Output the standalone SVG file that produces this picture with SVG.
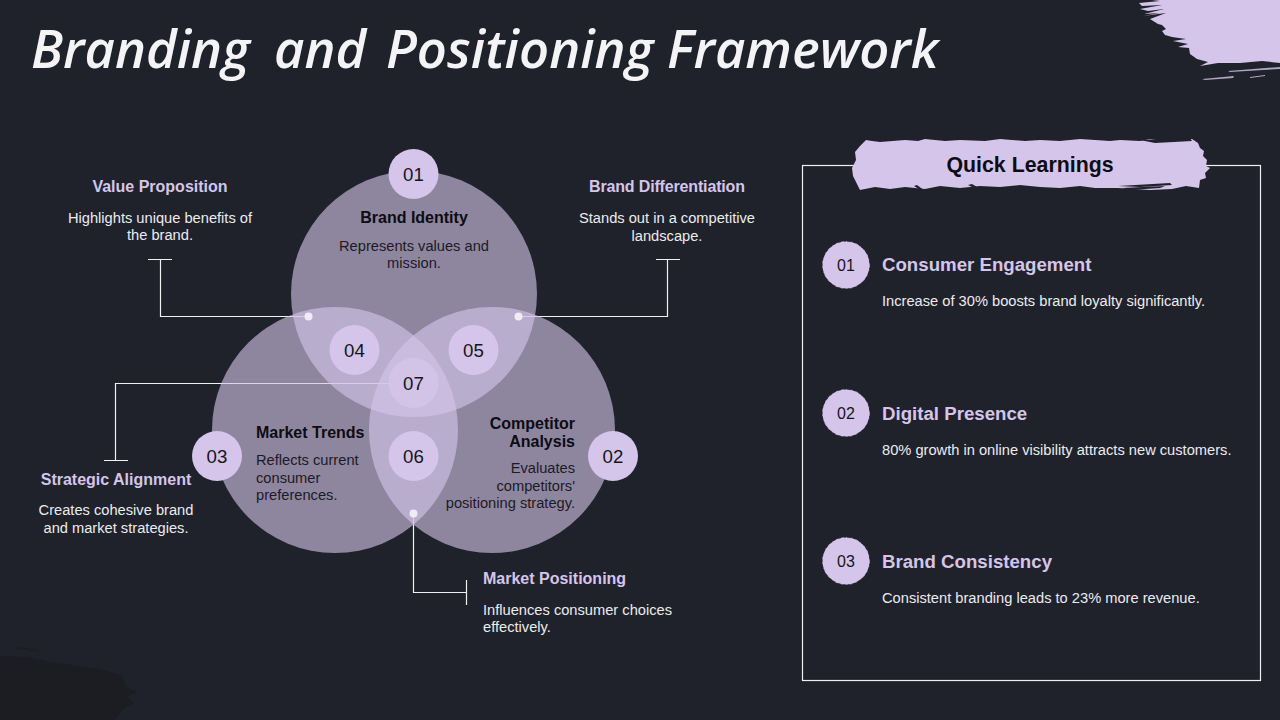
<svg xmlns="http://www.w3.org/2000/svg" width="1280" height="720" viewBox="0 0 1280 720">
<style>
text{font-family:"Liberation Sans",Arial,sans-serif}
.t{font-family:"Open Sans","DejaVu Sans",sans-serif;font-style:italic;font-size:52.5px;font-weight:600;fill:#f4f4f6}
.h{font-size:16px;font-weight:700;fill:#d5c5ea;text-anchor:middle}
.hs{font-size:16px;font-weight:700;fill:#d5c5ea}
.b{font-size:14.67px;fill:#ecebef;text-anchor:middle}
.bs{font-size:14.67px;fill:#ecebef}
.v{fill:#d5c5ea;fill-opacity:.61}
.n{fill:#d5c5ea}
.r{fill:#d5c5ea;stroke:#d5c5ea;stroke-width:.6;stroke-dasharray:3 2 1 4 2 3}
.num{font-size:18.67px;fill:#15151b;text-anchor:middle}
.dk{font-size:16px;font-weight:700;fill:#0c0c12}
.dt{font-size:14.67px;fill:#1c1a26}
.pn{font-size:16px;fill:#15151b;text-anchor:middle}
.ph{font-size:18.67px;font-weight:700;fill:#d5c5ea}
.l{fill:none;stroke:#f0f0f2;stroke-width:1.2}
.dot{fill:#f0ecf6}
.ln{fill:#d5c5ea}
.bgc{fill:#1f222b}
</style>
<rect id="background" width="1280" height="720" fill="#1f222b"/>
<g id="brushes">
<path class="ln" d="M1280 0H1152L1160 1 1139 3 1142 6 1162 5 1140 9 1148 11 1164 9 1144 14 1160 13 1143 16 1166 13 1150 19 1158 24 1162 25 1166 29 1162 31 1165 35 1172 37 1186 39 1173 41 1188 44 1178 47 1189 48 1190 54 1197 59 1208 62 1200 66 1218 63 1240 63 1262 61 1280 63Z"/>
<path class="ln" d="M1228 71 1280 67V69L1230 72ZM1202 79 1234 76 1233 78 1205 80ZM1250 77 1265 75V76L1250 78Z" opacity=".8"/>
<path d="M0 656 30 657 50 662 100 669 122 676 126 686 136 692 127 697 134 703 122 710 115 720H0Z" fill="#1c1d22"/>
<path d="M15 647 44 650 15 649ZM30 650 45 652 30 651Z" fill="#1c1d22"/>
</g>
<text class="t" y="68"><tspan x="31">Branding</tspan> <tspan x="274">and</tspan> <tspan x="386">Positioning</tspan> <tspan x="667">Framework</tspan></text>
<g id="connectors">
<path class="l" d="M148 259.500H172M160.500 259.500V316.500H308"/>
<path class="l" d="M656 259.500H680M667.500 259.500V316.500H518"/>
<path class="l" d="M390 383.500H115.500V460.500M104 460.500H128"/>
<path class="l" d="M413.500 513V592.500H466.500M466.500 580V605"/>
</g>
<g id="venn">
<circle class="v" cx="414" cy="294" r="123"/>
<circle class="v" cx="335" cy="430" r="123"/>
<circle class="v" cx="492" cy="430" r="123"/>
</g>
<g id="node-01"><circle class="n" cx="413.500" cy="174" r="25"/><text class="num" x="413.500" y="181">01</text>
<text class="dk" x="414" y="223" text-anchor="middle">Brand Identity</text><text class="dt" x="414" y="251" text-anchor="middle">Represents values and</text><text class="dt" x="414" y="268" text-anchor="middle">mission.</text></g>
<g id="node-02"><circle class="n" cx="613" cy="456" r="25"/><text class="num" x="613" y="463">02</text>
<text class="dk" x="575" y="429" text-anchor="end">Competitor</text><text class="dk" x="575" y="447" text-anchor="end">Analysis</text>
<text class="dt" x="575" y="473" text-anchor="end">Evaluates</text><text class="dt" x="575" y="491" text-anchor="end">competitors'</text><text class="dt" x="575" y="508" text-anchor="end">positioning strategy.</text></g>
<g id="node-03"><circle class="n" cx="217" cy="456" r="25"/><text class="num" x="217" y="463">03</text>
<text class="dk" x="256" y="438">Market Trends</text><text class="dt" x="256" y="465">Reflects current</text><text class="dt" x="256" y="483">consumer</text><text class="dt" x="256" y="500">preferences.</text></g>
<g id="node-04"><circle class="n" cx="354.500" cy="350" r="25"/><text class="num" x="354.500" y="357">04</text></g>
<g id="node-05"><circle class="n" cx="473.500" cy="350" r="25"/><text class="num" x="473.500" y="357">05</text></g>
<g id="node-06"><circle class="n" cx="413.500" cy="456" r="25"/><text class="num" x="413.500" y="463">06</text></g>
<g id="node-07"><circle class="n" cx="413.500" cy="383" r="25" fill-opacity=".75"/><text class="num" x="413.500" y="390">07</text></g>
<g id="dots"><circle class="dot" cx="308.500" cy="316.500" r="4"/><circle class="dot" cx="518.500" cy="316.500" r="4"/><circle class="dot" cx="413.500" cy="513.500" r="4"/></g>
<g id="value-proposition"><text class="h" x="160" y="192">Value Proposition</text><text class="b" x="160" y="223">Highlights unique benefits of</text><text class="b" x="160" y="240">the brand.</text></g>
<g id="brand-differentiation"><text class="h" x="667" y="192" textLength="156">Brand Differentiation</text><text class="b" x="667" y="223">Stands out in a competitive</text><text class="b" x="667" y="241">landscape.</text></g>
<g id="strategic-alignment"><text class="h" x="116" y="485">Strategic Alignment</text><text class="b" x="116" y="515">Creates cohesive brand</text><text class="b" x="116" y="533">and market strategies.</text></g>
<g id="market-positioning"><text class="hs" x="483" y="584">Market Positioning</text><text class="bs" x="483" y="615">Influences consumer choices</text><text class="bs" x="483" y="632">effectively.</text></g>
<g id="quick-learnings">
<rect x="802.500" y="165.500" width="458" height="515" fill="none" stroke="#f0f0f2" stroke-width="1.200"/>
<path class="ln" d="M866 140 872 141 880 142 905 140 918 141 925 139 945 141 960 140 985 141 1000 139 1025 141 1040 140 1060 141 1080 139 1110 141 1120 140 1140 141 1150 139 1170 142 1185 140 1192 139 1198 143 1200 148 1204 151 1203 156 1207 160 1206 166 1210 168 1205 173 1206 178 1200 180 1199 188 1186 186 1172 189 1150 190 1118 188 1095 188 1080 186 1060 188 1040 187 1020 185 1000 187 980 186 960 188 940 186 925 189 905 187 890 189 875 187 860 190 857 184 853 176 852 168 856 160 855 152 860 146Z"/>
<path class="bgc" d="M1118 186 1170 183 1172 185 1140 187ZM1122 188 1165 186 1160 188 1130 190ZM1140 140 1190 138 1192 141 1155 143ZM917 185 925 191 922 191 914 186ZM972 184 982 190 978 190 968 185Z"/>
<text x="1030" y="172" font-size="21.330" font-weight="700" fill="#0c0c12" text-anchor="middle">Quick Learnings</text>
</g>
<g id="item-01"><circle class="r" cx="846" cy="265" r="23.500"/><text class="pn" x="846" y="271">01</text><text class="ph" x="882" y="271">Consumer Engagement</text><text class="bs" x="882" y="306">Increase of 30% boosts brand loyalty significantly.</text></g>
<g id="item-02"><circle class="r" cx="846" cy="413" r="23.500"/><text class="pn" x="846" y="419">02</text><text class="ph" x="882" y="420">Digital Presence</text><text class="bs" x="882" y="455">80% growth in online visibility attracts new customers.</text></g>
<g id="item-03"><circle class="r" cx="846" cy="561" r="23.500"/><text class="pn" x="846" y="567">03</text><text class="ph" x="882" y="568">Brand Consistency</text><text class="bs" x="882" y="603">Consistent branding leads to 23% more revenue.</text></g>
</svg>
